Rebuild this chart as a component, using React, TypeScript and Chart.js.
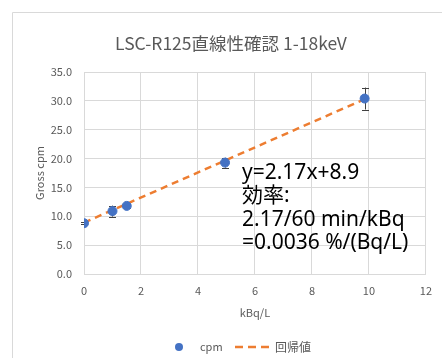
import React, { useEffect, useRef } from "react";
import { Chart, registerables } from "chart.js";

Chart.register(...registerables);

const titleText = "LSC-R125直線性確認 1-18keV";
const xTitle = "kBq/L";
const yTitle = "Gross cpm";
const seriesNames = ["cpm", "回帰値"];
const xValues = [0, 1.0, 1.5, 4.95, 9.85];
const yValues = [8.8, 10.9, 11.8, 19.3, 30.4];
const yErrors = [0.15, 0.95, 0.35, 0.85, 1.9];
const trendX = [0, 9.85];
const trendY = [8.9, 30.3];
const annotationLines = ["y=2.17x+8.9", "効率:", "2.17/60 min/kBq", "=0.0036 %/(Bq/L)"];

const FONT = "'Noto Sans CJK JP', 'Noto Sans', sans-serif";
const ANN_FONT = "'Noto Sans', 'Noto Sans CJK JP', sans-serif";
const GRAY = "#595959";
const GRID = "#d9d9d9";
const BLUE = "#4472C4";
const ORANGE = "#ED7D31";

const extras = {
  id: "extras",
  beforeDraw(chart: any) {
    const ctx = chart.ctx;
    ctx.save();
    ctx.strokeStyle = GRID;
    ctx.lineWidth = 1;
    ctx.beginPath();
    ctx.moveTo(12.5, 358);
    ctx.lineTo(12.5, 12.5);
    ctx.lineTo(442, 12.5);
    ctx.stroke();
    ctx.fillStyle = GRAY;
    ctx.font = `17.5px ${FONT}`;
    ctx.textAlign = "center";
    ctx.textBaseline = "middle";
    ctx.fillText(titleText, 231, 43);
    ctx.restore();
  },
  beforeDatasetsDraw(chart: any) {
    const ctx = chart.ctx;
    const xs = chart.scales.x;
    const ys = chart.scales.y;
    ctx.save();
    ctx.strokeStyle = "#404040";
    ctx.lineWidth = 1;
    xValues.forEach((xv, i) => {
      const px = Math.round(xs.getPixelForValue(xv)) + 0.5;
      const top = ys.getPixelForValue(yValues[i] + yErrors[i]);
      const bot = ys.getPixelForValue(yValues[i] - yErrors[i]);
      ctx.beginPath();
      ctx.moveTo(px, top);
      ctx.lineTo(px, bot);
      ctx.moveTo(px - 3.5, Math.round(top) + 0.5);
      ctx.lineTo(px + 3.5, Math.round(top) + 0.5);
      ctx.moveTo(px - 3.5, Math.round(bot) + 0.5);
      ctx.lineTo(px + 3.5, Math.round(bot) + 0.5);
      ctx.stroke();
    });
    ctx.restore();
  },
  afterDraw(chart: any) {
    const ctx = chart.ctx;
    ctx.save();
    ctx.fillStyle = "#000000";
    ctx.font = `21px ${ANN_FONT}`;
    ctx.textBaseline = "middle";
    ctx.textAlign = "left";
    annotationLines.forEach((t, i) => {
      ctx.fillText(t, 242, 173 + i * 23.5);
    });
    const ly = 347;
    ctx.fillStyle = BLUE;
    ctx.beginPath();
    ctx.arc(179, ly, 4, 0, Math.PI * 2);
    ctx.fill();
    ctx.font = `11px ${FONT}`;
    ctx.fillStyle = GRAY;
    ctx.fillText(seriesNames[0], 200, ly);
    ctx.strokeStyle = ORANGE;
    ctx.lineWidth = 2.5;
    ctx.setLineDash([8, 5]);
    ctx.beginPath();
    ctx.moveTo(235, ly);
    ctx.lineTo(272, ly);
    ctx.stroke();
    ctx.setLineDash([]);
    ctx.font = `12px ${FONT}`;
    ctx.fillText(seriesNames[1], 275, ly);
    ctx.restore();
  },
};

export default function App() {
  const ref = useRef<HTMLCanvasElement | null>(null);
  useEffect(() => {
    if (!ref.current) return;
    const chart = new Chart(ref.current, {
      type: "scatter",
      data: {
        datasets: [
          {
            label: seriesNames[0],
            data: xValues.map((x, i) => ({ x, y: yValues[i] })),
            backgroundColor: BLUE,
            borderColor: BLUE,
            pointRadius: 4.5,
            pointHoverRadius: 4.5,
            order: 1,
          },
          {
            label: seriesNames[1],
            type: "line",
            data: trendX.map((x, i) => ({ x, y: trendY[i] })),
            borderColor: ORANGE,
            borderWidth: 2.5,
            borderDash: [7, 5],
            pointRadius: 0,
            fill: false,
            showLine: true,
            order: 2,
          } as any,
        ],
      },
      options: {
        animation: false,
        responsive: false,
        devicePixelRatio: 1,
        layout: { padding: { left: 0, right: 10, top: 72, bottom: 34 } },
        plugins: {
          legend: { display: false },
          tooltip: { enabled: false },
          title: { display: false },
        },
        scales: {
          x: {
            type: "linear",
            min: 0,
            max: 12,
            ticks: {
              stepSize: 2,
              color: GRAY,
              padding: 10,
              font: { family: FONT, size: 11 },
            },
            grid: { color: GRID, drawTicks: false },
            border: { color: GRID },
            title: {
              display: true,
              text: xTitle,
              color: GRAY,
              font: { family: FONT, size: 11, lineHeight: 1.2 },
              padding: { top: 0, bottom: 5 },
            },
            afterFit: (s: any) => {
              s.height = 50;
            },
          },
          y: {
            type: "linear",
            min: 0,
            max: 35,
            ticks: {
              stepSize: 5,
              color: GRAY,
              padding: 12,
              font: { family: FONT, size: 11 },
              callback: (v: any) => Number(v).toFixed(1),
            },
            grid: { color: GRID, drawTicks: false },
            border: { color: GRID },
            title: {
              display: true,
              text: yTitle,
              color: GRAY,
              font: { family: FONT, size: 11, lineHeight: 1.2 },
              padding: { top: 33.4, bottom: 0 },
            },
            afterFit: (s: any) => {
              s.width = 84;
            },
          },
        },
      },
      plugins: [extras],
    });
    return () => chart.destroy();
  }, []);
  return (
    <div style={{ position: "fixed", left: 0, top: 0, width: 442, height: 358, background: "#fff" }}>
      <canvas ref={ref} width={442} height={358} style={{ display: "block" }} />
    </div>
  );
}
